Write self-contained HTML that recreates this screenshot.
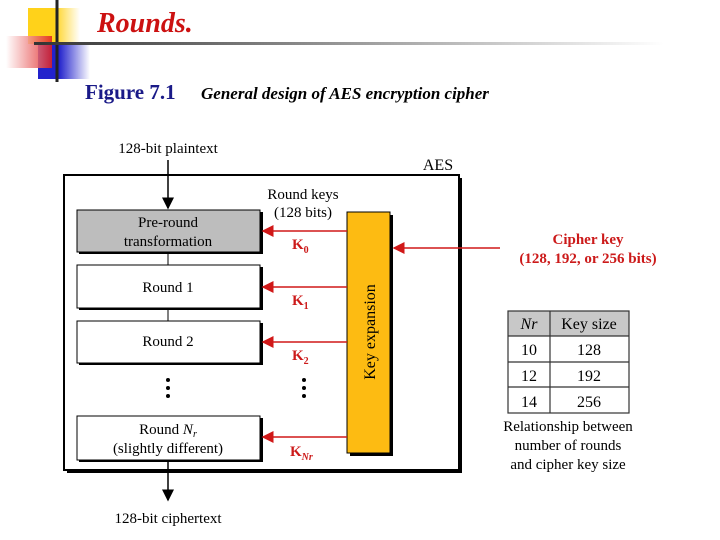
<!DOCTYPE html>
<html><head><meta charset="utf-8"><style>
body{margin:0;background:#fff;width:720px;height:540px;overflow:hidden}
svg{display:block}
text{font-family:"Liberation Serif",serif}
</style></head><body>
<svg width="720" height="540" viewBox="0 0 720 540">
<defs>
<linearGradient id="gy" x1="0" x2="1"><stop offset="0.5" stop-color="#ffd21a"/><stop offset="1" stop-color="#fff"/></linearGradient>
<linearGradient id="gr" x1="0" x2="1"><stop offset="0" stop-color="#fff"/><stop offset="1" stop-color="#e02020"/></linearGradient>
<linearGradient id="gb" x1="0" x2="1"><stop offset="0.4" stop-color="#2222cc"/><stop offset="1" stop-color="#fff"/></linearGradient>
<linearGradient id="gl" x1="0" x2="1"><stop offset="0" stop-color="#333"/><stop offset="1" stop-color="#fff"/></linearGradient>
<marker id="ab" markerWidth="8" markerHeight="8" refX="7" refY="4" orient="auto"><path d="M0,0 L8,4 L0,8 z" fill="#000"/></marker>
<marker id="ar" markerWidth="8" markerHeight="8" refX="7" refY="4" orient="auto"><path d="M0,0 L8,4 L0,8 z" fill="#d01818"/></marker>
</defs>
<rect x="28" y="8" width="52" height="36" fill="url(#gy)"/>
<rect x="38" y="45" width="52" height="34" fill="url(#gb)"/>
<rect x="6" y="36" width="46" height="32" fill="url(#gr)" opacity="0.85"/>
<line x1="57" y1="0" x2="57" y2="82" stroke="#222" stroke-width="3"/>
<rect x="34" y="42" width="630" height="3" fill="url(#gl)"/>
<text x="97" y="32" font-size="28" font-style="italic" font-weight="bold" fill="#cc1111">Rounds.</text>
<text x="85" y="99" font-size="21" font-weight="bold" fill="#1a1a88">Figure 7.1</text>
<text x="201" y="99" font-size="17" font-style="italic" font-weight="bold">General design of AES encryption cipher</text>

<rect x="67" y="178" width="395" height="295" fill="#000"/>
<rect x="64" y="175" width="395" height="295" fill="#fff" stroke="#000" stroke-width="2"/>
<text x="438" y="170" font-size="16" text-anchor="middle">AES</text>
<text x="168" y="153" font-size="15" text-anchor="middle">128-bit plaintext</text>
<line x1="168" y1="160" x2="168" y2="208" stroke="#000" stroke-width="1.5" marker-end="url(#ab)"/>
<line x1="168" y1="252" x2="168" y2="265" stroke="#000"/>
<line x1="168" y1="308" x2="168" y2="321" stroke="#000"/>
<line x1="168" y1="460" x2="168" y2="500" stroke="#000" stroke-width="1.5" marker-end="url(#ab)"/>
<text x="168" y="523" font-size="15" text-anchor="middle">128-bit ciphertext</text>

<rect x="79" y="212" width="184" height="42" fill="#000"/>
<rect x="77" y="210" width="183" height="42" fill="#bdbdbd" stroke="#000"/>
<text x="168" y="227" font-size="15" text-anchor="middle">Pre-round</text>
<text x="168" y="246" font-size="15" text-anchor="middle">transformation</text>
<rect x="79" y="267" width="184" height="43" fill="#000"/>
<rect x="77" y="265" width="183" height="43" fill="#fff" stroke="#000"/>
<text x="168" y="292" font-size="15" text-anchor="middle">Round 1</text>
<rect x="79" y="323" width="184" height="42" fill="#000"/>
<rect x="77" y="321" width="183" height="42" fill="#fff" stroke="#000"/>
<text x="168" y="346" font-size="15" text-anchor="middle">Round 2</text>
<rect x="79" y="418" width="184" height="44" fill="#000"/>
<rect x="77" y="416" width="183" height="44" fill="#fff" stroke="#000"/>
<text x="168" y="434" font-size="15" text-anchor="middle">Round <tspan font-style="italic">N<tspan font-size="10" dy="3">r</tspan></tspan></text>
<text x="168" y="453" font-size="15" text-anchor="middle">(slightly different)</text>
<g fill="#000"><circle cx="168" cy="380" r="2"/><circle cx="168" cy="388" r="2"/><circle cx="168" cy="396" r="2"/>
<circle cx="304" cy="380" r="2"/><circle cx="304" cy="388" r="2"/><circle cx="304" cy="396" r="2"/></g>

<rect x="350" y="215" width="43" height="241" fill="#000"/>
<rect x="347" y="212" width="43" height="241" fill="#fdbb12" stroke="#000"/>
<text transform="translate(375,332) rotate(-90)" font-size="16" text-anchor="middle">Key expansion</text>
<text x="303" y="199" font-size="15" text-anchor="middle">Round keys</text>
<text x="303" y="217" font-size="15" text-anchor="middle">(128 bits)</text>

<g stroke="#d01818" stroke-width="1.5">
<line x1="347" y1="231" x2="263" y2="231" marker-end="url(#ar)"/>
<line x1="347" y1="287" x2="263" y2="287" marker-end="url(#ar)"/>
<line x1="347" y1="342" x2="263" y2="342" marker-end="url(#ar)"/>
<line x1="347" y1="437" x2="263" y2="437" marker-end="url(#ar)"/>
<line x1="500" y1="248" x2="394" y2="248" marker-end="url(#ar)"/>
</g>
<g fill="#cc1a1a" font-weight="bold" font-size="15">
<text x="292" y="249">K<tspan font-size="10" dy="4">0</tspan></text>
<text x="292" y="305">K<tspan font-size="10" dy="4">1</tspan></text>
<text x="292" y="360">K<tspan font-size="10" dy="4">2</tspan></text>
<text x="290" y="456">K<tspan font-size="10" dy="4" font-style="italic">Nr</tspan></text>
<text x="588" y="244" text-anchor="middle">Cipher key</text>
<text x="588" y="263" text-anchor="middle">(128, 192, or 256 bits)</text>
</g>

<rect x="508" y="311" width="121" height="25" fill="#c8c8c8"/>
<g stroke="#333" stroke-width="1.2" fill="none">
<rect x="508" y="311" width="121" height="102"/>
<line x1="508" y1="336" x2="629" y2="336"/>
<line x1="508" y1="362" x2="629" y2="362"/>
<line x1="508" y1="387" x2="629" y2="387"/>
<line x1="550" y1="311" x2="550" y2="413"/>
</g>
<g font-size="16" text-anchor="middle">
<text x="529" y="329" font-style="italic">Nr</text><text x="589" y="329">Key size</text>
<text x="529" y="355">10</text><text x="589" y="355">128</text>
<text x="529" y="381">12</text><text x="589" y="381">192</text>
<text x="529" y="407">14</text><text x="589" y="407">256</text>
<text x="568" y="431" font-size="15">Relationship between</text>
<text x="568" y="450" font-size="15">number of rounds</text>
<text x="568" y="469" font-size="15">and cipher key size</text>
</g>
</svg>
</body></html>
